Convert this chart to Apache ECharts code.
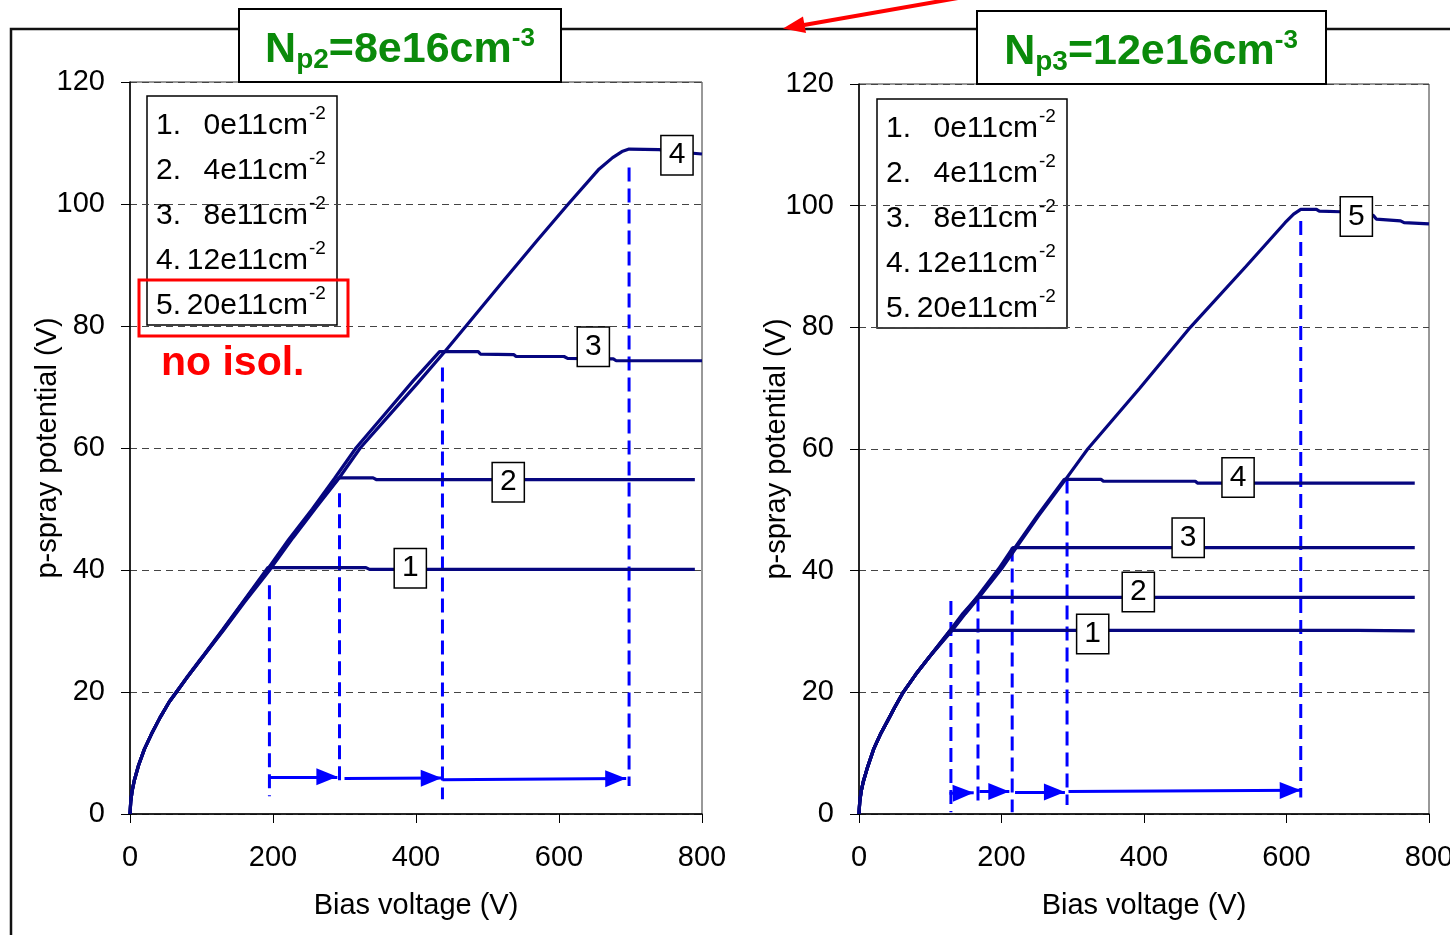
<!DOCTYPE html>
<html>
<head>
<meta charset="utf-8">
<script src="https://cdn.jsdelivr.net/npm/echarts@6/dist/echarts.min.js"></script>
<style>
  html, body { margin: 0; padding: 0; background: #fff; }
  #chart { width: 1450px; height: 935px; }
</style>
</head>
<body>
<div id="chart"></div>
<script>
// ---- data: [bias V, potential V] ----
const xTicks = [0, 200, 400, 600, 800];
const yTicks = [0, 20, 40, 60, 80, 100, 120];

// Np2 = 8e16 (left panel)
const leftC1 = [[0,0],[1,2],[3,3.8],[6,5.5],[12,8],[20,10.6],[30,13.1],[42,15.8],[55,18.4],[65,20],[80,22.5],[100,25.6],[130,30.3],[160,35.1],[193,40.4],[330,40.4],[335,40.1],[790,40.1]];
const leftC2 = [[0,0],[1,2],[3,3.8],[6,5.5],[12,8],[20,10.6],[30,13.1],[42,15.8],[55,18.4],[65,20],[80,22.4],[100,25.5],[130,30.2],[160,35],[195,40.4],[230,46],[260,50.5],[292,55.1],[340,55.1],[345,54.8],[790,54.8]];
const leftC3 = [[0,0],[1,2],[3,3.8],[6,5.5],[12,8],[20,10.6],[30,13.1],[42,15.8],[55,18.4],[65,20],[80,22.4],[100,25.5],[130,30.1],[160,34.9],[193,40.2],[222,45],[255,50],[286,55],[316,60],[356,65.5],[396,71],[433,75.8],[487,75.8],[490,75.4],[537,75.3],[540,75],[607,75],[612,74.7],[676,74.6],[680,74.3],[800,74.3]];
const leftC4 = [[0,0],[1,2],[3,3.8],[6,5.5],[12,8],[20,10.6],[30,13.1],[42,15.8],[55,18.4],[65,20],[80,22.4],[100,25.5],[130,30],[160,34.7],[196,40.1],[228,45.3],[260,50.2],[292,55],[322,60],[362,65.3],[402,70.6],[441,75.9],[470,80],[520,87.1],[570,94.1],[613,100],[655,105.6],[675,107.6],[688,108.6],[698,109],[740,108.9],[760,108.6],[800,108.2]];
const leftDrops = [[195,37.5,2.9],[293,52.6,4.6],[437,73.2,2.4],[698,106,4.6]];
const leftArrows = [[195,6.1,290,6.1],[300,5.8,436,5.9],[437,5.6,694,5.8]];
const leftTags = [[392,40.3,'1'],[529,54.4,'2'],[648,76.6,'3'],[765,108,'4']];

// Np3 = 12e16 (right panel)
const rightC1 = [[0,0],[1,2],[3,3.7],[6,5.3],[12,7.7],[21,10.8],[30,13.1],[40,15.3],[50,17.5],[62,20],[80,23],[100,26],[128,30.2],[700,30.2],[780,30.1]];
const rightC2 = [[0,0],[1,2],[3,3.7],[6,5.3],[12,7.7],[21,10.8],[30,13.1],[40,15.3],[50,17.5],[62,20],[80,23],[100,26],[128,30.2],[146,33],[166,35.6],[780,35.6]];
const rightC3 = [[0,0],[1,2],[3,3.7],[6,5.3],[12,7.7],[21,10.8],[30,13.1],[40,15.3],[50,17.5],[62,20],[80,23],[100,26],[129,30.2],[147,32.9],[168,36],[196,40.3],[216,43.8],[780,43.8]];
const rightC4 = [[0,0],[1,2],[3,3.7],[6,5.3],[12,7.7],[21,10.8],[30,13.1],[40,15.3],[50,17.5],[62,20],[80,23],[100,26],[130,30.2],[148,32.9],[170,36],[198,40.3],[220,44],[250,49],[288,55],[340,55],[343,54.7],[472,54.7],[475,54.4],[780,54.4]];
const rightC5 = [[0,0],[1,2],[3,3.7],[6,5.3],[12,7.7],[21,10.8],[30,13.1],[40,15.3],[50,17.5],[62,20],[80,23],[100,26],[131,30.2],[149,32.9],[171,36],[200,40.3],[222,44],[252,49],[290,55],[321,60],[394,70],[465,80],[543,90],[598,97.2],[610,98.6],[620,99.4],[642,99.4],[646,99.1],[676,99],[680,98.6],[722,98.4],[726,97.8],[760,97.5],[765,97.2],[800,97]];
const rightDrops = [[129,35,0.3],[167,35.6,1.1],[215,43.8,0.3],[292,55,1.5],[620,97.5,2.7]];
const rightArrows = [[127,3.4,161,3.5],[169,3.7,211,3.7],[219,3.6,289,3.6],[294,3.7,620,3.9]];
const rightTags = [[328,29.6,'1'],[392,36.5,'2'],[462,45.4,'3'],[532,55.3,'4'],[698,98.2,'5']];

const legendNums = ['1.', '2.', '3.', '4.', '5.'];
const legendDoses = ['0e11cm', '4e11cm', '8e11cm', '12e11cm', '20e11cm'];

const FONT = '"Liberation Sans", Arial, sans-serif';
const NAVY = '#06067f';
const BLUE = '#0000ff';

function xAx(idx) {
  return {
    type: 'value', gridIndex: idx, min: 0, max: 800, interval: 200,
    name: 'Bias voltage (V)', nameLocation: 'middle', nameGap: 77, nameMoveOverlap: false,
    nameTextStyle: { fontSize: 29, color: '#000', fontFamily: FONT },
    axisLine: { lineStyle: { color: '#000', width: 1.5 } },
    axisTick: { length: 9, lineStyle: { color: '#000' } },
    axisLabel: { fontSize: 29, color: '#000', fontFamily: FONT, margin: 29 },
    splitLine: { show: false }
  };
}
function yAx(idx) {
  return {
    type: 'value', gridIndex: idx, min: 0, max: 120, interval: 20,
    name: 'p-spray potential (V)', nameLocation: 'middle', nameGap: 68, nameMoveOverlap: false,
    nameTextStyle: { fontSize: 29, color: '#000', fontFamily: FONT },
    axisLine: { lineStyle: { color: '#000', width: 1.5 } },
    axisTick: { length: 9, lineStyle: { color: '#000' } },
    axisLabel: { fontSize: 29, color: '#000', fontFamily: FONT, margin: 25 },
    splitLine: { show: true, lineStyle: { color: '#444', type: [7, 5], width: 1 } }
  };
}

function curve(data, idx) {
  return {
    type: 'line', xAxisIndex: idx, yAxisIndex: idx, data: data,
    showSymbol: false, symbol: 'none', z: 3,
    lineStyle: { color: NAVY, width: 3.2 }
  };
}
function drops(list, idx) {
  return list.map(d => ({
    type: 'line', xAxisIndex: idx, yAxisIndex: idx, symbol: 'none', z: 2,
    data: [[d[0], d[1]], [d[0], d[2]]],
    lineStyle: { color: BLUE, width: 3, type: [14, 7] }
  }));
}
function arrows(list, idx) {
  return {
    type: 'line', xAxisIndex: idx, yAxisIndex: idx, data: [], z: 4,
    markLine: {
      silent: true, symbol: ['none', 'triangle'], symbolSize: [17, 21],
      symbolOffset: [[0, 0], [0, '50%']],
      label: { show: false },
      lineStyle: { color: BLUE, width: 3, type: 'solid' },
      data: list.map(a => [{ coord: [a[0], a[1]] }, { coord: [a[2], a[3]] }])
    }
  };
}
function tags(list, idx) {
  return {
    type: 'scatter', xAxisIndex: idx, yAxisIndex: idx, symbolSize: 1, z: 10,
    itemStyle: { color: '#fff', opacity: 1 },
    data: list,
    label: {
      show: true, position: 'inside', formatter: p => p.value[2],
      fontSize: 30, color: '#000', fontFamily: FONT, opacity: 1,
      backgroundColor: '#fff', borderColor: '#000', borderWidth: 1.5,
      padding: [4, 7, 3, 7], lineHeight: 31
    }
  };
}

function legend(x0, y0) {
  const kids = [{
    type: 'rect', shape: { x: x0, y: y0, width: 190, height: 229 },
    style: { fill: '#fff', stroke: '#000', lineWidth: 1.5 }
  }];
  legendNums.forEach((n, i) => {
    const cy = y0 + 30 + 45 * i;
    kids.push({ type: 'text', x: x0 + 9, y: cy, style: { text: n, font: '30px ' + FONT, fill: '#000', textAlign: 'left', textVerticalAlign: 'middle' } });
    kids.push({ type: 'text', x: x0 + 161, y: cy, style: { text: legendDoses[i], font: '30px ' + FONT, fill: '#000', textAlign: 'right', textVerticalAlign: 'middle' } });
    kids.push({ type: 'text', x: x0 + 162, y: cy - 12, style: { text: '-2', font: '19px ' + FONT, fill: '#000', textAlign: 'left', textVerticalAlign: 'middle' } });
  });
  return { type: 'group', z: 50, children: kids };
}

function title(cx, cy, sub, main) {
  return {
    type: 'text', x: cx, y: cy, z: 60,
    style: {
      text: '{n|N}{s|' + sub + '}{t|' + main + '}{u|-3}',
      textAlign: 'center', textVerticalAlign: 'middle',
      rich: {
        n: { fontSize: 43, fontWeight: 'bold', fontFamily: FONT, fill: '#0a8a0a', lineHeight: 48, verticalAlign: 'middle' },
        t: { fontSize: 43, fontWeight: 'bold', fontFamily: FONT, fill: '#0a8a0a', lineHeight: 48, verticalAlign: 'middle' },
        s: { fontSize: 28, fontWeight: 'bold', fontFamily: FONT, fill: '#0a8a0a', lineHeight: 28, verticalAlign: 'bottom' },
        u: { fontSize: 26, fontWeight: 'bold', fontFamily: FONT, fill: '#0a8a0a', lineHeight: 26, verticalAlign: 'top' }
      }
    }
  };
}

const gridBase = { show: true, borderColor: '#333', borderWidth: 1, backgroundColor: 'transparent', outerBoundsMode: 'none', containLabel: false };

const option = {
  animation: false,
  backgroundColor: '#fff',
  grid: [
    Object.assign({ left: 130, top: 82, width: 572, height: 732 }, gridBase),
    Object.assign({ left: 859, top: 84, width: 570, height: 730 }, gridBase)
  ],
  xAxis: [xAx(0), xAx(1)],
  yAxis: [yAx(0), yAx(1)],
  series: [
    ...drops(leftDrops, 0),
    ...drops(rightDrops, 1),
    curve(leftC1, 0), curve(leftC2, 0), curve(leftC3, 0), curve(leftC4, 0),
    curve(rightC1, 1), curve(rightC2, 1), curve(rightC3, 1), curve(rightC4, 1), curve(rightC5, 1),
    arrows(leftArrows, 0), arrows(rightArrows, 1),
    tags(leftTags, 0), tags(rightTags, 1)
  ],
  graphic: [
    // outer frame of the slide
    { type: 'polyline', z: 40, shape: { points: [[11, 935], [11, 29], [1450, 29]] }, style: { stroke: '#111', lineWidth: 2.5, fill: null } },
    // title boxes
    { type: 'rect', z: 55, shape: { x: 239, y: 9, width: 322, height: 73 }, style: { fill: '#fff', stroke: '#000', lineWidth: 2 } },
    { type: 'rect', z: 55, shape: { x: 977, y: 11, width: 349, height: 73 }, style: { fill: '#fff', stroke: '#000', lineWidth: 2 } },
    title(400, 50, 'p2', '=8e16cm'),
    title(1151, 52, 'p3', '=12e16cm'),
    // red arrow
    { type: 'line', z: 60, shape: { x1: 958, y1: -2, x2: 804, y2: 25 }, style: { stroke: '#ff0000', lineWidth: 4 } },
    { type: 'polygon', z: 60, shape: { points: [[783, 28.5], [806, 33], [803, 16.5]] }, style: { fill: '#ff0000' } },
    legend(147, 96),
    legend(877, 99),
    { type: 'rect', z: 70, shape: { x: 139, y: 280, width: 209, height: 56 }, style: { fill: null, stroke: '#ff0000', lineWidth: 3 } },
    { type: 'text', z: 70, x: 161, y: 364, style: { text: 'no isol.', font: 'bold 41px ' + FONT, fill: '#ff0000', textAlign: 'left', textVerticalAlign: 'middle' } }
  ]
};

const myChart = echarts.init(document.getElementById('chart'));
myChart.setOption(option);
</script>
</body>
</html>
